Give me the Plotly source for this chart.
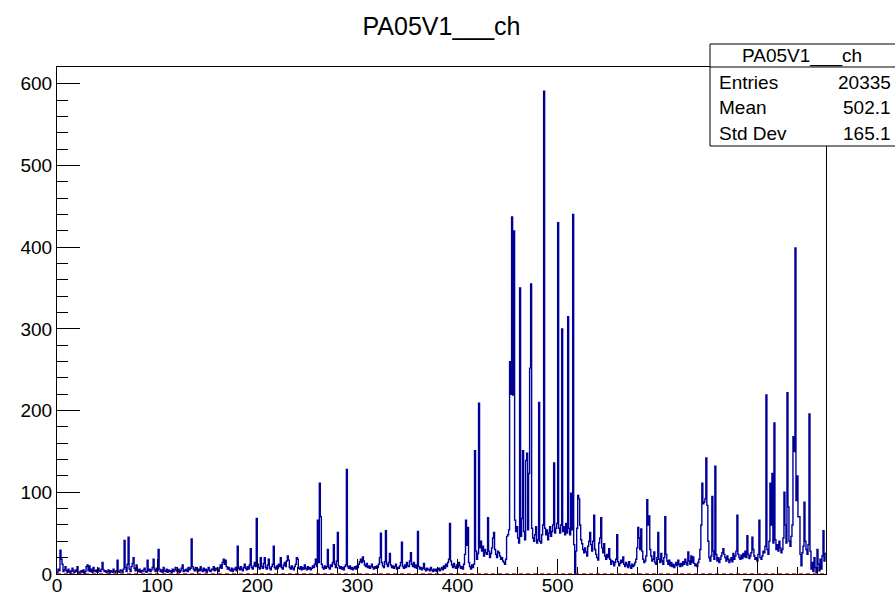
import plotly.graph_objects as go

# ---------------- data ----------------
TITLE = "PA05V1___ch"
X_MIN = 0
X_MAX = 768
COUNTS = [
    # 0-31
    2, 6, 4, 29, 18, 12, 3, 5, 9, 4, 2, 6, 3, 1, 4, 7, 3, 2, 5, 3, 9, 2, 1, 3, 4, 2, 5, 1, 3, 9, 11, 4,
    # 32-63
    10, 3, 6, 2, 8, 4, 3, 5, 2, 7, 4, 3, 6, 14, 5, 3, 4, 2, 3, 5, 1, 4, 3, 2, 6, 3, 2, 4, 17, 3, 2, 5,
    # 64-95
    4, 2, 6, 41, 8, 3, 12, 45, 6, 3, 9, 13, 20, 7, 4, 11, 5, 3, 6, 2, 4, 3, 5, 7, 3, 2, 17, 4, 6, 3, 5, 8,
    # 96-127
    18, 5, 3, 7, 4, 30, 6, 3, 5, 2, 8, 4, 3, 6, 2, 5, 3, 4, 2, 6, 3, 5, 8, 4, 3, 6, 2, 4, 7, 11, 3, 5,
    # 128-159
    4, 6, 3, 8, 5, 7, 43, 9, 6, 4, 8, 5, 3, 6, 4, 9, 5, 3, 7, 4, 6, 2, 5, 8, 4, 3, 6, 5, 9, 4, 7, 5,
    # 160-191
    6, 3, 8, 11, 7, 14, 18, 12, 17, 9, 6, 8, 5, 4, 7, 3, 6, 5, 8, 4, 34, 7, 5, 9, 6, 4, 8, 12, 7, 5, 9, 6,
    # 192-223
    11, 31, 8, 6, 10, 14, 9, 68, 12, 8, 6, 20, 9, 7, 13, 20, 8, 6, 11, 18, 7, 5, 9, 12, 34, 8, 6, 10, 7, 12, 9, 20,
    # 224-255
    8, 6, 11, 14, 9, 16, 22, 17, 8, 6, 10, 7, 5, 9, 12, 20, 18, 7, 6, 9, 5, 8, 6, 11, 7, 5, 9, 6, 8, 5, 7, 10,
    # 256-287
    8, 12, 18, 9, 66, 14, 111, 70, 12, 8, 6, 10, 7, 9, 30, 8, 6, 11, 9, 14, 36, 12, 8, 16, 51, 10, 7, 9, 6, 8, 5, 9,
    # 288-319
    11, 128, 9, 7, 10, 6, 8, 5, 7, 9, 6, 10, 8, 12, 15, 18, 14, 21, 16, 11, 9, 13, 8, 10, 7, 9, 12, 8, 6, 9, 7, 10,
    # 320-351
    8, 12, 20, 50, 14, 10, 8, 15, 53, 12, 9, 14, 25, 11, 8, 10, 7, 9, 12, 6, 8, 7, 10, 14, 39, 9, 7, 11, 8, 14, 10, 9,
    # 352-383
    16, 26, 12, 9, 14, 8, 11, 7, 52, 9, 6, 8, 5, 7, 13, 6, 4, 7, 5, 6, 4, 8, 5, 3, 6, 4, 6, 3, 5, 7, 4, 6,
    # 384-415
    8, 5, 10, 7, 12, 9, 14, 18, 62, 16, 11, 8, 13, 9, 7, 11, 8, 14, 10, 7, 9, 6, 12, 24, 66, 35, 57, 14, 9, 6, 11, 8,
    # 416-447
    12, 151, 28, 18, 25, 209, 32, 40, 28, 34, 22, 30, 26, 24, 69, 28, 20, 25, 32, 44, 51, 30, 24, 20, 28, 26, 22, 18, 20, 16, 14, 12,
    # 448-479
    18, 46, 48, 54, 260, 220, 437, 219, 420, 66, 52, 58, 44, 38, 350, 46, 68, 151, 52, 42, 139, 148, 54, 123, 252, 355, 56, 44, 40, 48, 58, 38,
    # 480-511
    42, 210, 40, 38, 48, 60, 591, 56, 48, 54, 42, 50, 58, 46, 52, 60, 136, 50, 56, 62, 430, 56, 50, 60, 300, 52, 58, 48, 62, 50, 315, 56,
    # 512-543
    48, 99, 54, 440, 36, 0, 28, 56, 96, 92, 60, 42, 37, 30, 26, 32, 27, 22, 34, 40, 51, 36, 28, 40, 72, 30, 24, 20, 17, 38, 44, 69,
    # 544-575
    32, 26, 37, 22, 18, 24, 20, 31, 18, 12, 16, 15, 10, 14, 18, 48, 15, 10, 13, 17, 14, 21, 12, 9, 14, 11, 8, 15, 10, 7, 12, 9,
    # 576-607
    11, 14, 18, 32, 57, 44, 30, 55, 28, 18, 14, 16, 22, 91, 60, 71, 30, 22, 16, 18, 27, 14, 12, 20, 51, 18, 14, 25, 16, 12, 20, 70,
    # 608-639
    24, 16, 12, 17, 10, 14, 9, 12, 8, 11, 14, 10, 17, 12, 9, 13, 10, 15, 12, 18, 14, 11, 27, 16, 12, 22, 14, 21, 13, 10, 12, 9,
    # 640-671
    14, 18, 30, 60, 111, 86, 88, 92, 142, 84, 40, 20, 16, 22, 95, 28, 18, 132, 24, 16, 20, 14, 18, 22, 26, 31, 24, 20, 16, 22, 18, 14,
    # 672-703
    17, 20, 15, 25, 18, 22, 28, 72, 24, 20, 18, 23, 19, 25, 21, 28, 20, 47, 24, 19, 22, 26, 45, 30, 22, 18, 20, 16, 24, 66, 20, 18,
    # 704-735
    22, 28, 26, 34, 219, 30, 24, 40, 111, 60, 123, 38, 185, 42, 30, 36, 28, 40, 32, 26, 30, 44, 100, 60, 38, 222, 82, 40, 34, 46, 60, 168,
    # 736-767
    150, 399, 90, 120, 70, 70, 24, 10, 26, 34, 88, 40, 30, 24, 36, 196, 28, 6, 14, 3, 20, 8, 2, 30, 12, 4, 18, 6, 22, 53, 16, 25,
]
STATS_LABELS = ["Entries", "Mean", "Std Dev"]
STATS_VALUES = ["20335", "502.1", "165.1"]
X_TICKS = [0, 100, 200, 300, 400, 500, 600, 700]
Y_TICKS = [0, 100, 200, 300, 400, 500, 600]

# ---------------- geometry (pixels) ----------------
W, H = 895, 596
L, R, T, B = 57, 826, 67, 574
PW, PH = R - L, B - T


def px(x):
    return (x - L) / PW


def py(y):
    return (B - y) / PH


FONT = "Liberation Sans, Arial, Helvetica, sans-serif"
HIST_COLOR = "#000099"

nbins = len(COUNTS)
edges = [X_MIN + (X_MAX - X_MIN) * i / nbins for i in range(nbins + 1)]
xs = [edges[0]] + edges
ys = [0] + COUNTS + [COUNTS[-1]]

fig = go.Figure()
fig.add_trace(go.Scatter(
    x=xs, y=ys, mode="lines", line=dict(color=HIST_COLOR, width=1.4, shape="hv"),
    hoverinfo="skip", showlegend=False,
))

ymax = 1.05 * max(COUNTS)

# red dashed line along zero
fig.add_shape(type="line", xref="x", yref="y", x0=edges[0], x1=edges[-1], y0=0, y1=0,
              line=dict(color="red", width=1.5, dash="4px,3px"), layer="above")

# statistics box
fig.add_shape(type="rect", xref="paper", yref="paper", x0=px(710), x1=px(900), y0=py(146), y1=py(44),
              line=dict(color="black", width=1), fillcolor="white", layer="above")
fig.add_shape(type="line", xref="paper", yref="paper", x0=px(710), x1=px(900), y0=py(67), y1=py(67),
              line=dict(color="black", width=1), layer="above")
fig.add_annotation(xref="paper", yref="paper", x=px(802), y=py(55.5), text=TITLE, showarrow=False,
                   xanchor="center", yanchor="middle", font=dict(family=FONT, size=19, color="black"))
row_y = [82, 107.5, 133]
for lab, val, yy in zip(STATS_LABELS, STATS_VALUES, row_y):
    fig.add_annotation(xref="paper", yref="paper", x=px(717), y=py(yy), text=lab, showarrow=False,
                       xanchor="left", yanchor="middle", font=dict(family=FONT, size=19, color="black"))
    fig.add_annotation(xref="paper", yref="paper", x=px(893), y=py(yy), text=val, showarrow=False,
                       xanchor="right", yanchor="middle", font=dict(family=FONT, size=19, color="black"))

axis_common = dict(showgrid=False, zeroline=False, showline=True, linecolor="black", linewidth=1,
                   mirror=True, ticks="inside", tickcolor="black", tickwidth=1, automargin=False,
                   tickfont=dict(family=FONT, size=19, color="black"))

fig.update_layout(
    template="none",
    width=W, height=H, autosize=False,
    margin=dict(l=L, r=W - R, t=T, b=H - B, pad=0, autoexpand=False),
    paper_bgcolor="white", plot_bgcolor="white",
    showlegend=False,
    title=dict(text=TITLE, x=0.5, xref="paper", xanchor="center", y=1 - 26 / H, yanchor="middle",
               font=dict(family=FONT, size=25, color="black")),
    xaxis=dict(range=[X_MIN, X_MAX], tickvals=X_TICKS, ticklen=15, ticklabelstandoff=-6,
               minor=dict(ticks="inside", ticklen=7, dtick=20, tick0=0, tickcolor="black"),
               **axis_common),
    yaxis=dict(range=[0, ymax], tickvals=Y_TICKS, ticklen=23,
               minor=dict(ticks="inside", ticklen=11, dtick=20, tick0=0, tickcolor="black"),
               **axis_common),
)

fig.write_html("out.html", config={"displayModeBar": False},
               post_script="document.body.style.margin='0px';document.body.style.overflow='hidden';")
